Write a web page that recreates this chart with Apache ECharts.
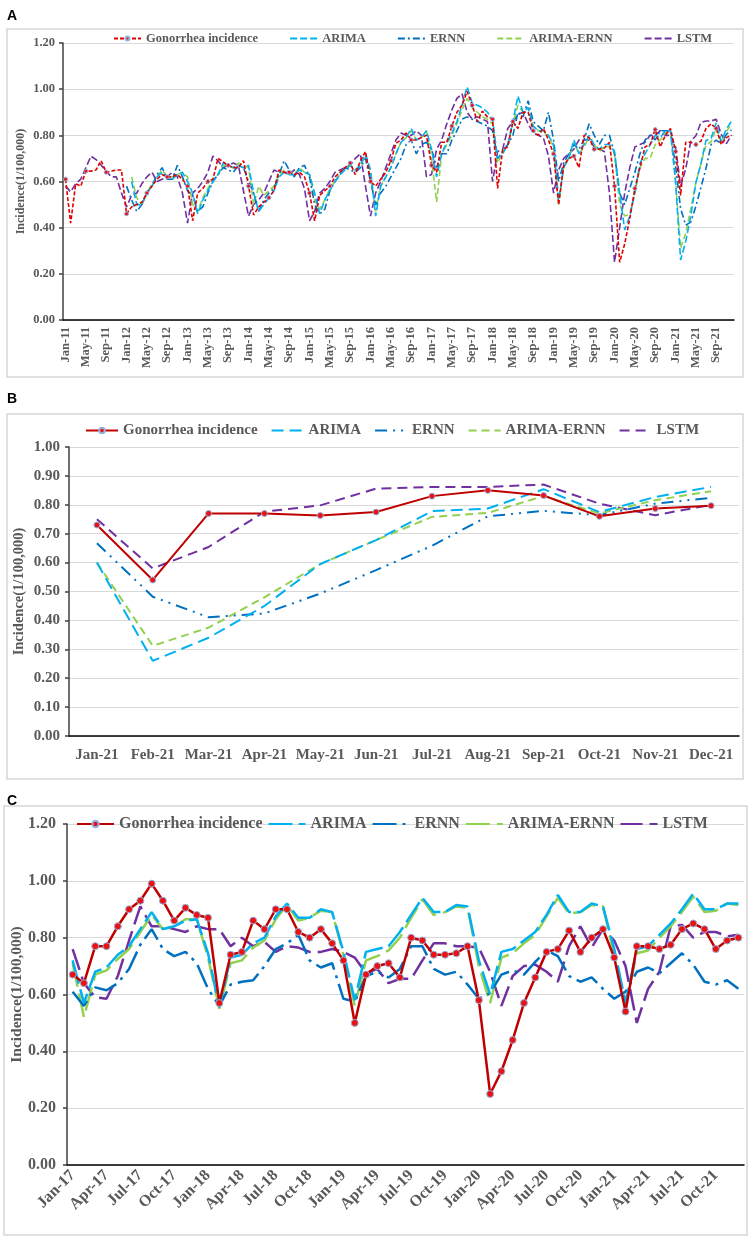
<!DOCTYPE html>
<html>
<head>
<meta charset="utf-8">
<script src="https://cdn.jsdelivr.net/npm/echarts@6/dist/echarts.min.js"></script>
<style>
  body { margin: 0; background: #fff; }
  .panel { position: absolute; left: 0; width: 752px; }
</style>
</head>
<body>
<div id="chartA" class="panel" style="top:0;height:385px"></div>
<div id="chartB" class="panel" style="top:385px;height:395px"></div>
<div id="chartC" class="panel" style="top:780px;height:459px"></div>
<script>
var MONTHS = ['Jan', 'Feb', 'Mar', 'Apr', 'May', 'Jun', 'Jul', 'Aug', 'Sep', 'Oct', 'Nov', 'Dec'];
var NAMES = ['Gonorrhea incidence', 'ARIMA', 'ERNN', 'ARIMA-ERNN', 'LSTM'];

function monthCats (y0, y1) {
  var out = [];
  for (var y = y0; y <= y1; y++) {
    MONTHS.forEach(function (m) { out.push(m + '-' + y); });
  }
  return out;
}

var catsA = monthCats(11, 21);
var catsB = monthCats(21, 21);
var catsC = monthCats(17, 21);

// ---- panel C : Jan-17 .. Dec-21 ----
var gonorC = [
  0.67, 0.64, 0.77, 0.77, 0.84, 0.90, 0.93, 0.99, 0.93, 0.86, 0.905, 0.88,
  0.87, 0.57, 0.74, 0.75, 0.86, 0.83, 0.90, 0.90, 0.82, 0.80, 0.83, 0.78,
  0.72, 0.50, 0.67, 0.70, 0.71, 0.66, 0.80, 0.79, 0.74, 0.74, 0.745, 0.77,
  0.58, 0.25, 0.33, 0.44, 0.57, 0.66, 0.75, 0.76, 0.825, 0.75, 0.80, 0.83,
  0.73, 0.54, 0.77, 0.77, 0.76, 0.775, 0.83, 0.85, 0.83, 0.76, 0.79, 0.80
];
var arimaC = [
  0.72, 0.57, 0.68, 0.695, 0.74, 0.77, 0.83, 0.89, 0.83, 0.84, 0.86, 0.865,
  0.745, 0.555, 0.73, 0.74, 0.78, 0.80, 0.875, 0.92, 0.87, 0.87, 0.90, 0.89,
  0.75, 0.58, 0.75, 0.76, 0.77, 0.82, 0.88, 0.94, 0.89, 0.89, 0.915, 0.91,
  0.72, 0.60, 0.75, 0.76, 0.79, 0.82, 0.88, 0.95, 0.89, 0.89, 0.92, 0.91,
  0.76, 0.57, 0.76, 0.77, 0.81, 0.85, 0.90, 0.955, 0.90, 0.90, 0.92, 0.92
];
var ernnC = [
  0.61, 0.56, 0.625, 0.615, 0.64, 0.69, 0.775, 0.83, 0.76, 0.735, 0.75, 0.71,
  0.62, 0.56, 0.635, 0.645, 0.65, 0.70, 0.76, 0.78, 0.81, 0.72, 0.695, 0.71,
  0.585, 0.575, 0.665, 0.68, 0.66, 0.69, 0.77, 0.77, 0.69, 0.67, 0.68, 0.635,
  0.585, 0.605, 0.67, 0.685, 0.67, 0.715, 0.755, 0.735, 0.665, 0.645, 0.66, 0.62,
  0.585, 0.61, 0.68, 0.695, 0.675, 0.71, 0.745, 0.705, 0.645, 0.635, 0.65, 0.62
];
var arimaErnnC = [
  0.71, 0.52, 0.67, 0.685, 0.725, 0.76, 0.82, 0.88, 0.83, 0.84, 0.865, 0.865,
  0.73, 0.55, 0.71, 0.72, 0.765, 0.79, 0.865, 0.915, 0.86, 0.87, 0.895, 0.89,
  0.74, 0.56, 0.72, 0.735, 0.755, 0.80, 0.87, 0.935, 0.88, 0.89, 0.91, 0.905,
  0.70, 0.57, 0.73, 0.745, 0.78, 0.81, 0.875, 0.94, 0.885, 0.89, 0.915, 0.91,
  0.74, 0.56, 0.745, 0.755, 0.80, 0.84, 0.89, 0.945, 0.89, 0.895, 0.92, 0.915
];
var lstmC = [
  0.76, 0.64, 0.59, 0.585, 0.665, 0.79, 0.91, 0.84, 0.84, 0.83, 0.82, 0.84,
  0.83, 0.83, 0.77, 0.80, 0.77, 0.785, 0.75, 0.77, 0.765, 0.75, 0.75, 0.76,
  0.75, 0.73, 0.675, 0.69, 0.64, 0.655, 0.655, 0.72, 0.78, 0.78, 0.77, 0.77,
  0.765, 0.68, 0.56, 0.665, 0.70, 0.705, 0.68, 0.645, 0.77, 0.84, 0.765, 0.83,
  0.79, 0.70, 0.50, 0.62, 0.68, 0.84, 0.845, 0.80, 0.82, 0.82, 0.805, 0.81
];

// ---- panel B : Jan-21 .. Dec-21 ----
var gonorB = [0.73, 0.54, 0.77, 0.77, 0.763, 0.775, 0.83, 0.85, 0.832, 0.76, 0.787, 0.797];
var arimaB = [0.60, 0.26, 0.34, 0.45, 0.595, 0.678, 0.778, 0.787, 0.854, 0.775, 0.827, 0.862];
var ernnB = [0.667, 0.482, 0.411, 0.424, 0.493, 0.574, 0.658, 0.76, 0.779, 0.764, 0.804, 0.824];
var arimaErnnB = [0.60, 0.312, 0.375, 0.48, 0.595, 0.678, 0.758, 0.772, 0.83, 0.77, 0.816, 0.847];
var lstmB = [0.75, 0.58, 0.654, 0.776, 0.798, 0.856, 0.862, 0.862, 0.87, 0.804, 0.764, 0.80];

// ---- panel A : Jan-11 .. Dec-21 ----
var gonorA = [
  0.61, 0.42, 0.59, 0.58, 0.645, 0.645, 0.65, 0.69, 0.64, 0.645, 0.65, 0.65,
  0.46, 0.49, 0.50, 0.51, 0.55, 0.58, 0.61, 0.63, 0.62, 0.62, 0.63, 0.61,
  0.58, 0.43, 0.55, 0.57, 0.60, 0.61, 0.70, 0.685, 0.67, 0.66, 0.66, 0.69,
  0.58, 0.455, 0.49, 0.51, 0.53, 0.56, 0.65, 0.64, 0.64, 0.63, 0.64, 0.62,
  0.55, 0.43, 0.54, 0.56, 0.58, 0.62, 0.64, 0.66, 0.68, 0.63, 0.69, 0.73,
  0.60, 0.58, 0.61, 0.64, 0.69, 0.765, 0.78, 0.81, 0.78, 0.78, 0.79, 0.80
].concat(gonorC);
var arimaA = [
  null, null, null, null, null, null, null, null, null, null, null, null,
  null, 0.60, 0.50, 0.50, 0.55, 0.58, 0.62, 0.64, 0.62, 0.61, 0.63, 0.64,
  0.60, 0.55, 0.46, 0.52, 0.56, 0.60, 0.63, 0.68, 0.67, 0.66, 0.67, 0.66,
  0.67, 0.55, 0.47, 0.50, 0.53, 0.56, 0.62, 0.64, 0.63, 0.63, 0.65, 0.64,
  0.63, 0.55, 0.46, 0.52, 0.56, 0.60, 0.63, 0.65, 0.67, 0.65, 0.67, 0.72,
  0.65, 0.45, 0.58, 0.62, 0.66, 0.72, 0.77, 0.79, 0.83, 0.78, 0.79, 0.82,
  0.74, 0.62, 0.72, 0.77, 0.81, 0.86, 0.93, 1.01, 0.94, 0.93, 0.92, 0.90,
  0.87, 0.70, 0.72, 0.76, 0.86, 0.97, 0.90, 0.92, 0.84, 0.82, 0.82, 0.80,
  0.76, 0.52, 0.66, 0.70, 0.78, 0.72, 0.76, 0.80, 0.76, 0.74, 0.76, 0.76,
  0.73, 0.55, 0.39, 0.45, 0.55, 0.68, 0.72, 0.76, 0.80, 0.79, 0.82, 0.82
].concat(arimaB);
var ernnA = [
  null, null, null, null, null, null, null, null, null, null, null, null,
  0.58, 0.52, 0.47, 0.50, 0.55, 0.58, 0.63, 0.66, 0.61, 0.61, 0.67, 0.62,
  0.56, 0.54, 0.47, 0.49, 0.55, 0.60, 0.63, 0.66, 0.65, 0.64, 0.67, 0.66,
  0.60, 0.55, 0.47, 0.52, 0.55, 0.57, 0.63, 0.69, 0.65, 0.62, 0.66, 0.67,
  0.62, 0.50, 0.46, 0.48, 0.56, 0.60, 0.63, 0.66, 0.65, 0.64, 0.66, 0.70,
  0.60, 0.50, 0.55, 0.58, 0.62, 0.66, 0.70, 0.76, 0.78, 0.72, 0.76, 0.77,
  0.74, 0.66, 0.72, 0.72, 0.78, 0.82, 0.87, 0.88, 0.87, 0.86, 0.85, 0.84,
  0.82, 0.70, 0.73, 0.76, 0.80, 0.90, 0.88, 0.95, 0.86, 0.84, 0.82, 0.90,
  0.78, 0.60, 0.68, 0.72, 0.76, 0.74, 0.78, 0.85, 0.80, 0.76, 0.80, 0.80,
  0.72, 0.55, 0.50, 0.57, 0.64, 0.72, 0.78, 0.80, 0.78, 0.82, 0.82, 0.82
].concat(ernnB);
var arimaErnnA = [
  null, null, null, null, null, null, null, null, null, null, null, null,
  null, 0.62, 0.53, 0.50, 0.55, 0.59, 0.62, 0.65, 0.62, 0.62, 0.63, 0.64,
  0.62, 0.50, 0.47, 0.53, 0.57, 0.61, 0.63, 0.67, 0.67, 0.66, 0.68, 0.67,
  0.66, 0.50, 0.58, 0.54, 0.56, 0.58, 0.63, 0.65, 0.64, 0.63, 0.66, 0.64,
  0.63, 0.52, 0.48, 0.52, 0.57, 0.60, 0.63, 0.66, 0.67, 0.65, 0.67, 0.71,
  0.64, 0.47, 0.58, 0.62, 0.66, 0.72, 0.77, 0.79, 0.82, 0.78, 0.79, 0.82,
  0.70, 0.51, 0.72, 0.76, 0.80, 0.85, 0.91, 0.96, 0.92, 0.90, 0.88, 0.87,
  0.85, 0.68, 0.73, 0.76, 0.85, 0.93, 0.90, 0.92, 0.84, 0.82, 0.81, 0.80,
  0.75, 0.50, 0.66, 0.70, 0.77, 0.72, 0.75, 0.79, 0.76, 0.73, 0.75, 0.75,
  0.72, 0.50, 0.45, 0.46, 0.55, 0.66, 0.70, 0.70, 0.76, 0.78, 0.81, 0.82
].concat(arimaErnnB);
var lstmA = [
  0.58, 0.555, 0.59, 0.61, 0.66, 0.71, 0.695, 0.67, 0.645, 0.62, 0.62, 0.55,
  0.49, 0.54, 0.55, 0.59, 0.62, 0.64, 0.60, 0.61, 0.62, 0.64, 0.62, 0.55,
  0.42, 0.55, 0.57, 0.60, 0.64, 0.71, 0.69, 0.66, 0.67, 0.68, 0.67, 0.56,
  0.45, 0.50, 0.52, 0.55, 0.60, 0.65, 0.64, 0.64, 0.63, 0.65, 0.63, 0.57,
  0.43, 0.47, 0.55, 0.57, 0.60, 0.64, 0.65, 0.66, 0.67, 0.70, 0.72, 0.58,
  0.45, 0.55, 0.60, 0.66, 0.72, 0.78, 0.81, 0.80, 0.80, 0.82, 0.80, 0.62,
  0.63, 0.74, 0.78, 0.85, 0.91, 0.96, 0.98, 0.90, 0.87, 0.88, 0.87, 0.86,
  0.60, 0.73, 0.74, 0.83, 0.86, 0.89, 0.90, 0.85, 0.81, 0.80, 0.79, 0.71,
  0.55, 0.65, 0.70, 0.72, 0.74, 0.78, 0.78, 0.78, 0.75, 0.74, 0.73, 0.55,
  0.25, 0.40, 0.55, 0.66, 0.75, 0.76, 0.77, 0.80, 0.80, 0.82, 0.80, 0.80
].concat(lstmB);

var SERIF = 'Liberation Serif';
var TXT = '#595959';
var GRID_LINE = '#d9d9d9';

function buildPanel (el, cfg) {
  var chart = echarts.init(document.getElementById(el));
  var colors = [cfg.red, '#00B0F0', '#0070C0', '#92D050', '#7030A0'];
  var series = cfg.data.map(function (d, k) {
    var s = {
      name: NAMES[k],
      type: 'line',
      data: d,
      z: 10 - k,
      lineStyle: { color: colors[k], width: cfg.width, type: cfg.dash[k] },
      itemStyle: { color: colors[k] },
      symbol: 'none'
    };
    if (k === 0) {
      s.symbol = 'circle';
      s.symbolSize = cfg.dot;
      s.z = 20;
      s.itemStyle = { color: '#ee1111', borderColor: '#8fb4e3', borderWidth: 1 };
    }
    return s;
  });
  // only the observed series keeps a dot in its legend icon
  var legendData = NAMES.map(function (n, k) {
    return k === 0 ? { name: n } : { name: n, itemStyle: { opacity: 0 } };
  });
  chart.setOption({
    animation: false,
    graphic: [
      { type: 'rect', shape: cfg.box, style: { fill: 'none', stroke: '#d6d6d6', lineWidth: 1.5 } },
      { type: 'text', left: 7, top: cfg.letterTop,
        style: { text: cfg.letter, font: 'bold 14px "Liberation Sans"', fill: '#000' } }
    ],
    legend: {
      left: cfg.legendLeft,
      top: cfg.legendTop,
      padding: 0,
      itemWidth: cfg.legendIcon,
      itemHeight: cfg.legendDot,
      itemGap: cfg.legendGap,
      data: legendData,
      textStyle: { fontFamily: SERIF, fontWeight: 'bold', fontSize: cfg.font, color: TXT }
    },
    grid: Object.assign({ containLabel: false, outerBoundsMode: 'none' }, cfg.grid),
    xAxis: {
      type: 'category',
      data: cfg.cats,
      boundaryGap: true,
      axisLine: { lineStyle: { color: '#000', width: 1.5 } },
      axisTick: { interval: cfg.labelInterval, length: 5, lineStyle: { color: '#000', width: 1.5 } },
      axisLabel: {
        interval: cfg.labelInterval,
        rotate: cfg.rotate,
        margin: cfg.xMargin,
        fontFamily: SERIF,
        fontWeight: 'bold',
        fontSize: cfg.font,
        color: TXT
      },
      splitLine: { show: false }
    },
    yAxis: {
      type: 'value',
      min: 0,
      max: cfg.yMax,
      interval: cfg.yStep,
      name: 'Incidence(1/100,000)',
      nameLocation: 'middle',
      nameGap: cfg.nameGap,
      nameMoveOverlap: false,
      nameTextStyle: { fontFamily: SERIF, fontWeight: 'bold', fontSize: cfg.nameFont, color: TXT },
      axisLine: { show: true, lineStyle: { color: '#404040', width: 1.5 } },
      axisTick: { show: true, length: 4, lineStyle: { color: '#404040', width: 1.5 } },
      axisLabel: {
        margin: cfg.yMargin,
        formatter: function (v) { return v.toFixed(2); },
        fontFamily: SERIF,
        fontWeight: 'bold',
        fontSize: cfg.font,
        color: TXT
      },
      splitLine: { lineStyle: { color: GRID_LINE, width: 1.2 } }
    },
    series: series
  });
}

buildPanel('chartA', {
  letter: 'A', letterTop: 9,
  box: { x: 7, y: 29, width: 736, height: 348 },
  grid: { left: 63, top: 43, width: 671, height: 277 },
  cats: catsA, labelInterval: 3, rotate: 90, xMargin: 7,
  yMax: 1.2, yStep: 0.2, yMargin: 8,
  font: 12.5, nameFont: 12, nameGap: 36,
  legendLeft: 113, legendTop: 32, legendIcon: 27, legendDot: 5, legendGap: 31,
  red: '#e00000', width: 1.6, dot: 4,
  dash: [[4, 2], [7, 3], [7, 3, 2, 3], [6, 3], [7, 3]],
  data: [gonorA, arimaA, ernnA, arimaErnnA, lstmA]
});

buildPanel('chartB', {
  letter: 'B', letterTop: 7,
  box: { x: 7, y: 29, width: 736, height: 365 },
  grid: { left: 69, top: 62, width: 670, height: 289 },
  cats: catsB, labelInterval: 0, rotate: 0, xMargin: 12,
  yMax: 1.0, yStep: 0.1, yMargin: 9,
  font: 15, nameFont: 14.5, nameGap: 42,
  legendLeft: 85, legendTop: 38, legendIcon: 32, legendDot: 7, legendGap: 13,
  red: '#c00000', width: 2, dot: 6,
  dash: ['solid', [12, 6], [12, 6, 2, 6, 2, 6], [8, 5], [10, 6]],
  data: [gonorB, arimaB, ernnB, arimaErnnB, lstmB]
});

buildPanel('chartC', {
  letter: 'C', letterTop: 14,
  box: { x: 4, y: 26, width: 743, height: 429 },
  grid: { left: 67, top: 44, width: 677, height: 341 },
  cats: catsC, labelInterval: 2, rotate: 45, xMargin: 8,
  yMax: 1.2, yStep: 0.2, yMargin: 11,
  font: 16, nameFont: 15.5, nameGap: 42,
  legendLeft: 76, legendTop: 36, legendIcon: 37, legendDot: 8, legendGap: 5,
  red: '#c00000', width: 2.5, dot: 7,
  dash: ['solid', [24, 6], [24, 6, 3, 6], [24, 7], [22, 7]],
  data: [gonorC, arimaC, ernnC, arimaErnnC, lstmC]
});
</script>
</body>
</html>
